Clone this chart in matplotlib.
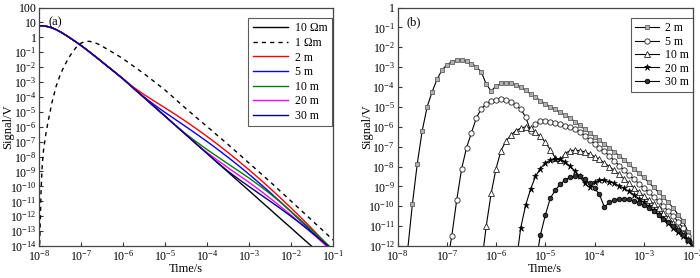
import numpy as np
import matplotlib
matplotlib.use('Agg')
import matplotlib.pyplot as plt
from matplotlib.ticker import FixedLocator, FuncFormatter, NullLocator

# Fonts: Times-like text and math
plt.rcParams['font.family'] = ['Liberation Serif', 'DejaVu Serif']
plt.rcParams['mathtext.fontset'] = 'custom'
plt.rcParams['mathtext.rm'] = 'Liberation Serif'
plt.rcParams['mathtext.it'] = 'Liberation Serif:italic'
plt.rcParams['font.size'] = 8.5

# ---------------- panel (a) data: log10(time), log10(signal) ----------------
log_t_a = [-8.0, -7.9, -7.8, -7.7, -7.6, -7.5, -7.4, -7.3, -7.2, -7.1, -7.0,
           -6.9, -6.8, -6.7, -6.6, -6.5, -6.4, -6.3, -6.2, -6.1, -6.0,
           -5.75, -5.5, -5.25, -5.0, -4.75, -4.5, -4.25, -4.0, -3.75, -3.5,
           -3.25, -3.0, -2.75, -2.5, -2.25, -2.0, -1.75, -1.5, -1.25, -1.0]

# early-time part shared by all the 10 Ωm based curves
early = [0.78, 0.77, 0.72, 0.64, 0.52, 0.37, 0.20, 0.02, -0.17, -0.36, -0.56,
         -0.77, -0.99, -1.21, -1.43, -1.66, -1.89, -2.11, -2.34, -2.57, -2.80]

sig_10ohm = early + [-3.43, -4.05, -4.68, -5.30, -5.93, -6.55, -7.18, -7.80, -8.43, -9.05,
                     -9.68, -10.30, -10.93, -11.55, -12.18, -12.80, -13.43, -14.05, -14.68, -15.30]
sig_2m = early + [-3.36, -3.85, -4.30, -4.74, -5.19, -5.66, -6.15, -6.66, -7.19, -7.74,
                  -8.31, -8.90, -9.51, -10.14, -10.79, -11.46, -12.15, -12.86, -13.59, -14.34]
sig_5m = early + [-3.43, -4.02, -4.55, -5.05, -5.53, -6.01, -6.50, -7.00, -7.52, -8.06,
                  -8.62, -9.20, -9.80, -10.42, -11.06, -11.71, -12.38, -13.06, -13.75, -14.45]
sig_10m = early + [-3.43, -4.05, -4.68, -5.30, -5.92, -6.50, -7.03, -7.54, -8.02, -8.50,
                   -8.97, -9.45, -9.96, -10.50, -11.08, -11.70, -12.32, -12.95, -13.60, -14.25]
sig_20m = early + [-3.43, -4.05, -4.68, -5.30, -5.93, -6.55, -7.18, -7.74, -8.26, -8.76,
                   -9.25, -9.74, -10.26, -10.80, -11.36, -11.94, -12.54, -13.15, -13.77, -14.40]
sig_30m = early + [-3.43, -4.05, -4.68, -5.30, -5.93, -6.55, -7.18, -7.80, -8.42, -9.00,
                   -9.52, -10.02, -10.51, -11.00, -11.50, -12.02, -12.56, -13.12, -13.70, -14.30]

log_t_1ohm = [-8.0, -7.96, -7.93, -7.9, -7.85, -7.8, -7.7, -7.6, -7.5, -7.4, -7.3,
              -7.2, -7.1, -7.0, -6.9, -6.8, -6.7, -6.6, -6.5, -6.4, -6.3, -6.2,
              -6.1, -6.0, -5.5, -5.0, -4.5, -4.0, -3.5, -3.0, -2.5, -2.0, -1.5, -1.0]
sig_1ohm = [-15.0, -10.5, -8.6, -7.6, -6.6, -5.8, -4.4, -3.3, -2.5, -1.9, -1.38,
            -0.95, -0.60, -0.38, -0.27, -0.27, -0.34, -0.45, -0.60, -0.77, -0.93, -1.10,
            -1.27, -1.45, -2.45, -3.55, -4.80, -6.00, -7.20, -8.45, -9.70, -11.00, -12.30, -13.60]

labels_a = ['10 \u03a9m', '1 \u03a9m', '2 m', '5 m', '10 m', '20 m', '30 m']
colors_a = ['black', 'black', '#ff0000', '#0000ff', '#008000', '#ff00ff', '#000080']

# ---------------- panel (b) data ----------------
log_t_b = [-8.0, -7.9, -7.8, -7.7, -7.6, -7.5, -7.4, -7.3, -7.2, -7.1,
           -7.0, -6.9, -6.8, -6.7, -6.6, -6.5, -6.4, -6.3, -6.2, -6.1,
           -6.0, -5.9, -5.8, -5.7, -5.6, -5.5, -5.4, -5.3, -5.2, -5.1,
           -5.0, -4.9, -4.8, -4.7, -4.6, -4.5, -4.4, -4.3, -4.2, -4.1,
           -4.0, -3.9, -3.8, -3.7, -3.6, -3.5, -3.4, -3.3, -3.2, -3.1,
           -3.0, -2.9, -2.8, -2.7, -2.6, -2.5, -2.4, -2.3, -2.2, -2.1, -2.0]

# every series ends at the last time sample (1e-2 s)
b_2m = [-12.3, -9.9, -7.85, -6.2, -5.0, -4.25, -3.62, -3.15, -2.88, -2.73,
        -2.65, -2.65, -2.70, -2.82, -2.97, -3.25, -3.85, -4.20, -3.95, -3.82,
        -3.78, -3.80, -3.88, -4.00, -4.17, -4.34, -4.51, -4.68, -4.85, -4.99,
        -5.13, -5.27, -5.41, -5.55, -5.74, -5.93, -6.12, -6.31, -6.50, -6.69,
        -6.88, -7.07, -7.26, -7.45, -7.67, -7.89, -8.11, -8.33, -8.55, -8.80,
        -9.05, -9.30, -9.55, -9.80, -10.10, -10.42, -10.75, -11.30, -11.90]
b_5m = [-13.0, -11.5, -9.7, -8.12, -7.05, -6.3, -5.55, -5.1, -4.84, -4.7,
        -4.63, -4.62, -4.64, -4.73, -4.9, -5.12, -5.5, -6.2, -5.85, -5.73,
        -5.72, -5.74, -5.8, -5.88, -5.96, -6.02, -6.1, -6.25, -6.45, -6.65,
        -6.85, -7.05, -7.24, -7.46, -7.7, -7.95, -8.2, -8.42, -8.64, -8.86,
        -9.08, -9.3, -9.52, -9.75, -10.0, -10.25, -10.5, -10.78, -11.1, -11.5, -11.95]
b_10m = [-13.0, -11.0, -9.35,
         -8.1, -7.2, -6.72, -6.42, -6.2, -6.07, -6.0, -6.08, -6.28, -6.48,
         -6.78, -7.15, -7.55, -7.68, -7.35, -7.2, -7.18, -7.2, -7.26, -7.38,
         -7.5, -7.64, -7.82, -8.0, -8.2, -8.4, -8.62, -8.85, -9.06, -9.28,
         -9.48, -9.68, -9.88, -10.1, -10.32, -10.58, -10.85, -11.1, -11.35, -11.65,
         -12.0]
b_20m = [-13.0, -11.1, -9.95, -9.15, -8.5, -8.1,
         -7.82, -7.68, -7.62, -7.63, -7.76, -7.98, -8.22, -8.5, -8.85, -9.05,
         -8.78, -8.7, -8.7, -8.76, -8.85, -8.97, -9.1, -9.25, -9.42, -9.62,
         -9.8, -10.0, -10.2, -10.4, -10.62, -10.85, -11.08, -11.3, -11.5, -11.75,
         -12.05]
b_30m = [-13.0, -11.45,
         -10.45, -9.6, -9.2, -8.9, -8.68, -8.55, -8.48, -8.5, -8.62, -8.85,
         -9.1, -9.4, -10.05, -9.8, -9.68, -9.63, -9.62, -9.65, -9.72, -9.82,
         -9.95, -10.1, -10.25, -10.45, -10.62, -10.8, -11.0, -11.2, -11.42, -11.7,
         -12.05]

labels_b = ['2 m', '5 m', '10 m', '20 m', '30 m']


def log_label(v, pos):
    # 100, 10, 1 written plainly, the rest as powers of ten
    e = int(round(np.log10(v)))
    if e >= 0:
        return str(int(round(v)))
    return r'$10^{%d}$' % e


def style_axes(ax, ymin_exp, ymax_exp, xmin_exp, xmax_exp, ylab_x):
    ax.set_xscale('log')
    ax.set_yscale('log')
    ax.set_xlim(10.0 ** xmin_exp, 10.0 ** xmax_exp)
    ax.set_ylim(10.0 ** ymin_exp, 10.0 ** ymax_exp)
    ax.xaxis.set_major_locator(FixedLocator(10.0 ** np.arange(xmin_exp, xmax_exp + 1)))
    ax.yaxis.set_major_locator(FixedLocator(10.0 ** np.arange(ymin_exp, ymax_exp + 1)))
    ax.xaxis.set_minor_locator(NullLocator())
    ax.yaxis.set_minor_locator(NullLocator())
    ax.xaxis.set_major_formatter(FuncFormatter(log_label))
    ax.yaxis.set_major_formatter(FuncFormatter(log_label))
    ax.tick_params(direction='in', length=3, width=0.8, labelsize=8.5, pad=2, colors='#333333',
                   labelcolor='black')
    for s in ax.spines.values():
        s.set_color('#444444')
        s.set_linewidth(0.9)
    ax.set_xlabel('Time/s', fontsize=9, labelpad=0)
    ax.set_ylabel('Signal/V', fontsize=9)
    ax.yaxis.set_label_coords(ylab_x, 0.5)


fig = plt.figure(figsize=(7.0, 2.78), dpi=100)
ax1 = fig.add_axes([0.0561, 0.115, 0.42, 0.858])
ax2 = fig.add_axes([0.568, 0.115, 0.422, 0.858])

# ---- panel (a) ----
ta = 10.0 ** np.array(log_t_a)
ax1.plot(ta, 10.0 ** np.array(sig_10ohm), color=colors_a[0], lw=1.0, label=labels_a[0])
ax1.plot(10.0 ** np.array(log_t_1ohm), 10.0 ** np.array(sig_1ohm), color=colors_a[1],
         lw=1.0, ls=(0, (3, 3)), label=labels_a[1])
for sig, lab, col in zip([sig_2m, sig_5m, sig_10m, sig_20m, sig_30m], labels_a[2:], colors_a[2:]):
    ax1.plot(ta, 10.0 ** np.array(sig), color=col, lw=1.0, label=lab)
style_axes(ax1, -14, 2, -8, -1, -0.085)
ax1.text(0.03, 0.965, '(a)', transform=ax1.transAxes, fontsize=9, va='top')
leg = ax1.legend(loc='upper right', bbox_to_anchor=(0.995, 0.955), fontsize=8.5,
                 frameon=True, fancybox=False, edgecolor='#333333', labelspacing=0.22,
                 handlelength=3.0, handletextpad=0.6, borderpad=0.35, borderaxespad=0)
leg.get_frame().set_linewidth(0.8)

# ---- panel (b) ----
tb = np.array(log_t_b)
marker_styles = [
    dict(marker='s', mfc='#b0b0b0', mec='#606060', ms=3.3, mew=0.6),
    dict(marker='o', mfc='white', mec='#222222', ms=3.8, mew=0.6),
    dict(marker='^', mfc='white', mec='#222222', ms=3.8, mew=0.6),
    dict(marker='*', mfc='black', mec='black', ms=4.5, mew=0.4),
    dict(marker='o', mfc='#333333', mec='black', ms=3.3, mew=0.6),
]
for sig, lab, mk in zip([b_2m, b_5m, b_10m, b_20m, b_30m], labels_b, marker_styles):
    t = 10.0 ** tb[-len(sig):]
    ax2.plot(t, 10.0 ** np.array(sig), color='black', lw=0.8, label=lab, **mk)
style_axes(ax2, -12, 0, -8, -2, -0.083)
ax2.text(0.03, 0.965, '(b)', transform=ax2.transAxes, fontsize=9, va='top')
leg2 = ax2.legend(loc='upper right', bbox_to_anchor=(1.0, 0.955), fontsize=8.5,
                  frameon=True, fancybox=False, edgecolor='#333333', labelspacing=0.12,
                  handlelength=2.0, numpoints=1, handletextpad=0.5, borderpad=0.35,
                  borderaxespad=0)
leg2.get_frame().set_linewidth(0.8)

fig.savefig('out.png', dpi=100)
